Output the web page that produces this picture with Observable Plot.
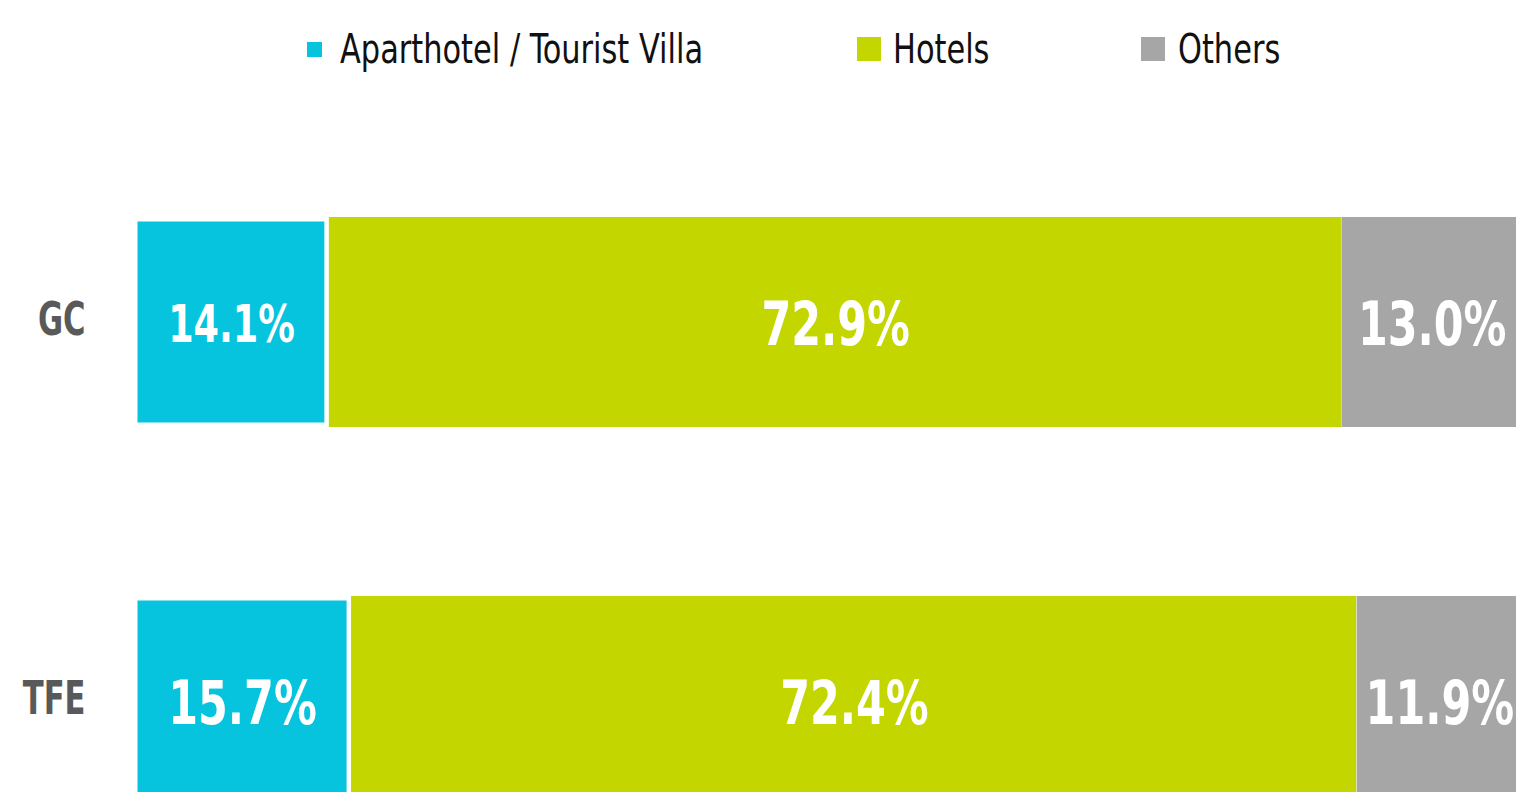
<!DOCTYPE html>
<html>
<head>
<meta charset="utf-8">
<script src="https://cdn.jsdelivr.net/npm/d3@7"></script>
<script src="https://cdn.jsdelivr.net/npm/@observablehq/plot@0.6"></script>
<style>
  html, body { margin: 0; padding: 0; background: #fff; overflow: hidden; width: 1516px; height: 792px; }
  body { position: relative; font-family: "DejaVu Sans Condensed", "DejaVu Sans", sans-serif; }
  #legend { position: absolute; top: 0; left: 0; width: 1516px; height: 100px; z-index: 2; }
  .item { position: absolute; top: 28px; height: 42px; display: flex; align-items: center; font-size: 41px; line-height: 42px; color: #111; white-space: nowrap; }
  .sw { display: inline-block; flex: none; }
  .lt { display: inline-block; transform: scaleX(0.825); transform-origin: 0 50%; }
  #chart { position: absolute; top: 0; left: 0; width: 1530px; }
  #chart svg { max-width: none !important; }
</style>
</head>
<body>
<div id="legend"></div>
<div id="chart"></div>
<script>
const rows = ["GC", "TFE"];
const categories = ["Aparthotel / Tourist Villa", "Hotels", "Others"];
const colors = ["#06C3DE", "#C4D600", "#A6A6A6"];
const aparthotel = [14.1, 15.7];
const hotels = [72.9, 72.4];
const others = [13.0, 11.9];

const seriesValues = [aparthotel, hotels, others];
const data = [];
rows.forEach((row, i) => {
  let acc = 0;
  categories.forEach((cat, j) => {
    const v = seriesValues[j][i];
    data.push({row, cat, value: v, x1: acc, x2: acc + v});
    acc += v;
  });
});

// Legend (HTML)
const legendPos = [{left: 307, size: 15, gap: 18}, {left: 857, size: 24, gap: 12}, {left: 1141, size: 24, gap: 13}];
const legend = document.getElementById("legend");
categories.forEach((cat, j) => {
  const it = document.createElement("div");
  it.className = "item";
  it.style.left = legendPos[j].left + "px";
  const sw = document.createElement("span");
  sw.className = "sw";
  sw.style.width = legendPos[j].size + "px";
  sw.style.height = legendPos[j].size + "px";
  sw.style.background = colors[j];
  sw.style.marginRight = legendPos[j].gap + "px";
  it.appendChild(sw);
  const t = document.createElement("span");
  t.className = "lt";
  t.textContent = cat;
  it.appendChild(t);
  legend.appendChild(it);
});

const isFirst = d => d.cat === categories[0];

const chart = Plot.plot({
  width: 1530,
  height: 1000,
  marginLeft: 133,
  marginRight: 8,
  marginTop: 0,
  marginBottom: 0,
  style: {fontFamily: '"DejaVu Sans Condensed", "DejaVu Sans", sans-serif', background: "transparent", maxWidth: "none"},
  x: {domain: [0, 100], axis: null},
  y: {domain: rows, range: [47, 975], padding: 0.446, label: null},
  color: {domain: categories, range: colors},
  marks: [
    Plot.barX(data.filter(isFirst), {x1: "x1", x2: "x2", y: "row", fill: "cat", inset: 4.5}),
    Plot.barX(data.filter(d => !isFirst(d)), {x1: "x1", x2: "x2", y: "row", fill: "cat", insetRight: 0.5}),
    Plot.text(data, {
      x: d => (d.x1 + d.x2) / 2,
      y: "row",
      text: d => d.value.toFixed(1) + "%",
      fill: "white",
      fontWeight: "bold",
      fontSize: d => (d.row === "GC" && isFirst(d)) ? 52 : 61,
      dy: 3,
      className: "vlabel"
    }),
    Plot.axisY({
      tickSize: 0,
      tickPadding: 48,
      fontSize: 46,
      fontWeight: "bold",
      fill: "#595959",
      label: null,
      dy: -2,
      className: "rlabel"
    })
  ]
});
chart.style.maxWidth = "none";
document.getElementById("chart").appendChild(chart);

// Condense the text horizontally to mimic a narrow typeface
function condense(sel, k) {
  chart.querySelectorAll(sel).forEach(el => {
    const tr = el.getAttribute("transform") || "";
    el.setAttribute("transform", tr + ` scale(${k},1)`);
  });
}
condense(".vlabel text", 0.78);
condense(".rlabel text", 0.74);
</script>
</body>
</html>
